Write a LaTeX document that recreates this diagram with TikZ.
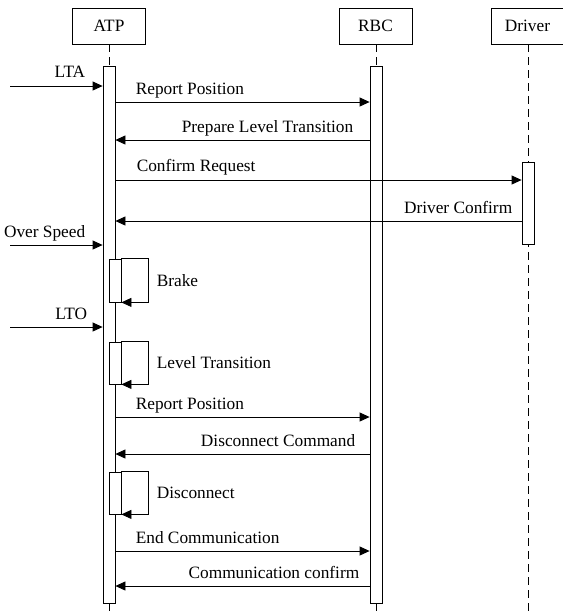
\documentclass[tikz,border=0pt]{standalone}
\usepackage{fontspec}
\setmainfont{Liberation Serif}
\usetikzlibrary{arrows.meta}

\tikzset{
  actor/.style={draw,minimum width=73pt,minimum height=36pt,inner sep=0pt},
  bar/.style={draw,fill=white,minimum width=12pt,inner sep=0pt},
  selfbox/.style={draw,fill=white,minimum width=12pt,inner sep=0pt},
  msg/.style={-{Triangle[length=10pt,width=9pt]}},
  life/.style={dash pattern=on 8pt off 5pt},
  lab/.style={inner sep=0pt}
}

\begin{document}
\begin{tikzpicture}[x=1pt,y=-1pt,line width=0.8pt,font=\fontsize{17.3}{20}\selectfont]
    \useasboundingbox (0,0) rectangle (563,614);
    \node[actor] (atp) at (109,26) {ATP};
    \node[actor] (rbc) at (375.5,26) {RBC};
    \node[actor] (drv) at (527.5,26) {Driver};
    \draw[life] (atp.south -| 109,0) -- (109,614);
    \draw[life] (rbc.south -| 376,0) -- (376,614);
    \draw[life] (drv.south -| 528,0) -- (528,614);
    \node[bar,minimum height=537pt] (atpbar) at (109,334.5) {};
    \node[bar,minimum height=537pt] (rbcbar) at (376,334.5) {};
    \node[bar,minimum height=82pt] (drvbar) at (528,203) {};
    \coordinate (lta) at (10,86);
    \coordinate (over) at (10,245);
    \coordinate (lto) at (10,327);
    \draw[msg] (lta) -- (atpbar.west |- lta)
    node[lab,pos=1,anchor=base east,xshift=-17pt,yshift=9pt] {LTA};
    \draw[msg] (over) -- (atpbar.west |- over)
    node[lab,pos=1,anchor=base east,xshift=-17pt,yshift=7.5pt] {Over Speed};
    \draw[msg] (lto) -- (atpbar.west |- lto)
    node[lab,pos=1,anchor=base east,xshift=-15pt,yshift=7.5pt] {LTO};
    \draw[msg] (atpbar.east |- 0,102) -- (rbcbar.west |- 0,102)
    node[lab,pos=0,anchor=base west,xshift=20pt,yshift=7.5pt] {Report Position};
    \draw[msg] (rbcbar.west |- 0,140) -- (atpbar.east |- 0,140)
    node[lab,pos=0,anchor=base east,xshift=-16pt,yshift=7.5pt] {Prepare Level Transition};
    \draw[msg] (atpbar.east |- 0,180) -- (drvbar.west |- 0,180)
    node[lab,pos=0,anchor=base west,xshift=21pt,yshift=8.5pt] {Confirm Request};
    \draw[msg] (drvbar.west |- 0,221) -- (atpbar.east |- 0,221)
    node[lab,pos=0,anchor=base east,xshift=-9pt,yshift=8pt] {Driver Confirm};
    \node[selfbox,minimum height=43pt] (brake) at (115,280.5) {};
    \draw[msg] (brake.north east) -- ++(27,0) |- (brake.south east)
    node[lab,pos=0.25,anchor=west,xshift=8pt] {Brake};
    \node[selfbox,minimum height=42pt] (level) at (115,363) {};
    \draw[msg] (level.north east) -- ++(27,0) |- (level.south east)
    node[lab,pos=0.25,anchor=west,xshift=8pt] {Level Transition};
    \draw[msg] (atpbar.east |- 0,417) -- (rbcbar.west |- 0,417)
    node[lab,pos=0,anchor=base west,xshift=20pt,yshift=7.5pt] {Report Position};
    \draw[msg] (rbcbar.west |- 0,454) -- (atpbar.east |- 0,454)
    node[lab,pos=0,anchor=base east,xshift=-14pt,yshift=7.5pt] {Disconnect Command};
    \node[selfbox,minimum height=42pt] (disc) at (115,493) {};
    \draw[msg] (disc.north east) -- ++(27,0) |- (disc.south east)
    node[lab,pos=0.25,anchor=west,xshift=8pt] {Disconnect};
    \draw[msg] (atpbar.east |- 0,551) -- (rbcbar.west |- 0,551)
    node[lab,pos=0,anchor=base west,xshift=20pt,yshift=7.5pt] {End Communication};
    \draw[msg] (rbcbar.west |- 0,586) -- (atpbar.east |- 0,586)
    node[lab,pos=0,anchor=base east,xshift=-10pt,yshift=7.5pt] {Communication confirm};
  \end{tikzpicture}
\end{document}
